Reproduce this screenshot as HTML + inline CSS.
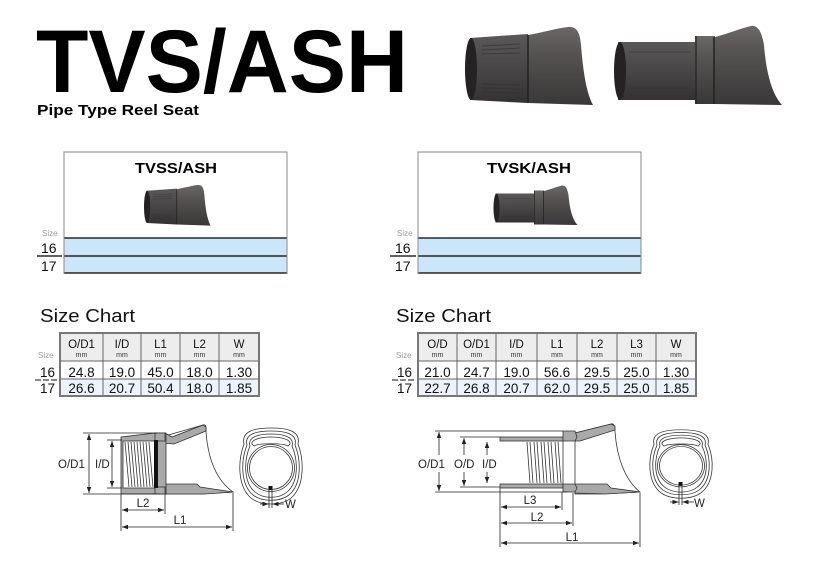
<!DOCTYPE html>
<html><head><meta charset="utf-8"><style>
html,body{margin:0;padding:0;background:#fff;width:819px;height:575px;overflow:hidden}
svg{display:block}
text{font-family:"Liberation Sans",Arial,sans-serif}
</style></head><body>
<svg width="819" height="575" viewBox="0 0 819 575" xmlns="http://www.w3.org/2000/svg">
<defs>
<linearGradient id="rub" x1="0" y1="0" x2="0" y2="1">
<stop offset="0" stop-color="#6a6767"/><stop offset="0.35" stop-color="#555252"/><stop offset="1" stop-color="#393737"/>
</linearGradient>
<linearGradient id="rub2" x1="0" y1="0" x2="0" y2="1">
<stop offset="0" stop-color="#5a5858"/><stop offset="0.5" stop-color="#484646"/><stop offset="1" stop-color="#333131"/>
</linearGradient>
<marker id="ar" viewBox="0 0 8 6" refX="8" refY="3" markerWidth="6" markerHeight="4.5" orient="auto-start-reverse" markerUnits="userSpaceOnUse">
<path d="M0,0 L8,3 L0,6 Z" fill="#222"/>
</marker>
<g id="ph1">
<path d="M528,35 C545,32 558,28 568,27 C577,26 580,33 581,45 C583,70 586,92 593,105 L528,103 Z" fill="url(#rub)"/>
<path d="M470,38 L528,34 L528,103 L470,100 Z" fill="url(#rub2)"/>
<g stroke="#333131" stroke-width="1" opacity="0.7">
<line x1="482" y1="46" x2="520" y2="44"/><line x1="482" y1="50" x2="520" y2="48"/><line x1="482" y1="54" x2="520" y2="53"/>
<line x1="482" y1="84" x2="520" y2="85"/><line x1="482" y1="88" x2="520" y2="89"/><line x1="482" y1="92" x2="520" y2="93"/>
</g>
<line x1="528" y1="35" x2="528" y2="103" stroke="#222020" stroke-width="1.5"/>
<ellipse cx="471" cy="69" rx="6" ry="31" fill="#242222"/>
</g>
<g id="ph2">
<path d="M715,37 C730,33 742,28 751,26 C759,25 762,34 764,45 C766,70 771,93 782,105 L715,104 Z" fill="url(#rub)"/>
<rect x="618" y="42" width="78" height="58" fill="url(#rub2)"/>
<rect x="695" y="36" width="20" height="68" fill="url(#rub)"/>
<line x1="696" y1="36" x2="696" y2="104" stroke="#222020" stroke-width="1.2"/>
<line x1="714" y1="37" x2="714" y2="104" stroke="#222020" stroke-width="1.5"/>
<g stroke="#333131" stroke-width="1" opacity="0.6">
<line x1="630" y1="52" x2="690" y2="52"/><line x1="630" y1="88" x2="690" y2="88"/>
</g>
<ellipse cx="620" cy="71" rx="6" ry="29" fill="#242222"/>
</g>
<g id="ring" fill="none" stroke="#333" stroke-width="0.8">
<path d="M-27,-22 C-30,-36 -14,-38 0,-38 C14,-38 30,-36 27,-22 C33,-6 34,20 20,32 C10,40 -10,40 -20,32 C-34,20 -33,-6 -27,-22 Z"/>
<path d="M-24,-21 C-27,-33 -12,-35 0,-35 C12,-35 27,-33 24,-21 C30,-6 31,18 18,29 C9,36 -9,36 -18,29 C-31,18 -30,-6 -24,-21 Z"/>
<path d="M-21,-20 C-24,-30 -10,-32 0,-32 C10,-32 24,-30 21,-20 C27,-6 28,16 16,26 C8,33 -8,33 -16,26 C-28,16 -27,-6 -21,-20 Z"/>
<path d="M-19,-22 C-20,-27 -8,-29 0,-29 C8,-29 20,-27 19,-22 L17,-20 C12,-23 -12,-23 -17,-20 Z"/>
<circle cx="0" cy="2" r="23.5"/>
<circle cx="0" cy="2" r="21.5"/>
</g>
</defs>

<!-- Title -->
<text x="36" y="92" font-size="89" font-weight="bold" textLength="372" lengthAdjust="spacingAndGlyphs" fill="#000">TVS/ASH</text>
<text x="37" y="115" font-size="15" font-weight="bold" textLength="162" lengthAdjust="spacingAndGlyphs" fill="#000">Pipe Type Reel Seat</text>

<!-- Photos -->
<use href="#ph1"/>
<use href="#ph2"/>

<!-- Box left -->
<rect x="64" y="152" width="223" height="121" fill="#fff" stroke="#8a8a8a" stroke-width="1"/>
<rect x="64" y="238" width="223" height="35" fill="#cbe6f8"/>
<line x1="64" y1="238" x2="287" y2="238" stroke="#000" stroke-width="1.2"/>
<line x1="64" y1="256" x2="287" y2="256" stroke="#000" stroke-width="1.2"/>
<line x1="64" y1="273" x2="287" y2="273" stroke="#000" stroke-width="1.2"/>
<line x1="64" y1="152" x2="64" y2="274" stroke="#8a8a8a"/>
<line x1="287" y1="152" x2="287" y2="274" stroke="#8a8a8a"/>
<text x="176" y="173" font-size="15" font-weight="bold" text-anchor="middle" textLength="82" lengthAdjust="spacingAndGlyphs">TVSS/ASH</text>
<g transform="translate(-97.8,171) scale(0.52)"><use href="#ph1"/></g>
<text x="42" y="236" font-size="8" fill="#999">Size</text>
<text x="41" y="253" font-size="14" fill="#111">16</text>
<line x1="37" y1="256" x2="62" y2="256" stroke="#000" stroke-width="1.2"/>
<text x="41" y="271" font-size="14" fill="#111">17</text>

<!-- Box right -->
<rect x="418" y="152" width="223" height="121" fill="#fff" stroke="#8a8a8a" stroke-width="1"/>
<rect x="418" y="238" width="223" height="35" fill="#cbe6f8"/>
<line x1="418" y1="238" x2="641" y2="238" stroke="#000" stroke-width="1.2"/>
<line x1="418" y1="256" x2="641" y2="256" stroke="#000" stroke-width="1.2"/>
<line x1="418" y1="273" x2="641" y2="273" stroke="#000" stroke-width="1.2"/>
<line x1="418" y1="152" x2="418" y2="274" stroke="#8a8a8a"/>
<line x1="641" y1="152" x2="641" y2="274" stroke="#8a8a8a"/>
<text x="529" y="173" font-size="15" font-weight="bold" text-anchor="middle" textLength="84" lengthAdjust="spacingAndGlyphs">TVSK/ASH</text>
<g transform="translate(186.5,172.5) scale(0.5)"><use href="#ph2"/></g>
<text x="397" y="236" font-size="8" fill="#999">Size</text>
<text x="395" y="253" font-size="14" fill="#111">16</text>
<line x1="390" y1="256" x2="416" y2="256" stroke="#000" stroke-width="1.2"/>
<text x="395" y="271" font-size="14" fill="#111">17</text>

<!-- Size chart left -->
<text x="40" y="322" font-size="18.5" fill="#111" textLength="95" lengthAdjust="spacingAndGlyphs">Size Chart</text>
<rect x="60" y="333" width="199" height="28" fill="#ededed"/>
<rect x="60" y="361" width="199" height="18" fill="#fff"/>
<rect x="60" y="379" width="199" height="17" fill="#eef2fb"/>
<g stroke="#666" stroke-width="1">
<line x1="60" y1="361" x2="259" y2="361"/><line x1="60" y1="379" x2="259" y2="379"/>
<line x1="103" y1="333" x2="103" y2="396"/><line x1="141" y1="333" x2="141" y2="396"/>
<line x1="180" y1="333" x2="180" y2="396"/><line x1="219" y1="333" x2="219" y2="396"/>
</g>
<rect x="60" y="333" width="199" height="63" fill="none" stroke="#777" stroke-width="2"/>
<g font-size="11.5" text-anchor="middle" fill="#111">
<text x="81.5" y="348">O/D1</text><text x="122" y="348">I/D</text><text x="160.5" y="348">L1</text><text x="199.5" y="348">L2</text><text x="239" y="348">W</text>
</g>
<g font-size="7" text-anchor="middle" fill="#333">
<text x="81.5" y="357">mm</text><text x="122" y="357">mm</text><text x="160.5" y="357">mm</text><text x="199.5" y="357">mm</text><text x="239" y="357">mm</text>
</g>
<g font-size="13.5" text-anchor="middle" fill="#111">
<text x="81.5" y="377">24.8</text><text x="122" y="377">19.0</text><text x="160.5" y="377">45.0</text><text x="199.5" y="377">18.0</text><text x="239" y="377">1.30</text>
<text x="81.5" y="393">26.6</text><text x="122" y="393">20.7</text><text x="160.5" y="393">50.4</text><text x="199.5" y="393">18.0</text><text x="239" y="393">1.85</text>
</g>
<text x="38" y="358" font-size="8" fill="#999">Size</text>
<text x="40" y="377" font-size="13.5" fill="#111">16</text>
<line x1="35" y1="380" x2="57" y2="380" stroke="#111" stroke-width="1" stroke-dasharray="6,2"/>
<text x="40" y="393" font-size="13.5" fill="#111">17</text>

<!-- Size chart right -->
<text x="396" y="322" font-size="18.5" fill="#111" textLength="95" lengthAdjust="spacingAndGlyphs">Size Chart</text>
<rect x="418" y="333" width="278" height="28" fill="#ededed"/>
<rect x="418" y="361" width="278" height="18" fill="#fff"/>
<rect x="418" y="379" width="278" height="17" fill="#eef2fb"/>
<g stroke="#666" stroke-width="1">
<line x1="418" y1="361" x2="696" y2="361"/><line x1="418" y1="379" x2="696" y2="379"/>
<line x1="457" y1="333" x2="457" y2="396"/><line x1="496" y1="333" x2="496" y2="396"/>
<line x1="537" y1="333" x2="537" y2="396"/><line x1="577" y1="333" x2="577" y2="396"/>
<line x1="617" y1="333" x2="617" y2="396"/><line x1="656" y1="333" x2="656" y2="396"/>
</g>
<rect x="418" y="333" width="278" height="63" fill="none" stroke="#777" stroke-width="2"/>
<g font-size="11.5" text-anchor="middle" fill="#111">
<text x="437.5" y="348">O/D</text><text x="476.5" y="348">O/D1</text><text x="516.5" y="348">I/D</text><text x="557" y="348">L1</text><text x="597" y="348">L2</text><text x="636.5" y="348">L3</text><text x="676" y="348">W</text>
</g>
<g font-size="7" text-anchor="middle" fill="#333">
<text x="437.5" y="357">mm</text><text x="476.5" y="357">mm</text><text x="516.5" y="357">mm</text><text x="557" y="357">mm</text><text x="597" y="357">mm</text><text x="636.5" y="357">mm</text><text x="676" y="357">mm</text>
</g>
<g font-size="13.5" text-anchor="middle" fill="#111">
<text x="437.5" y="377">21.0</text><text x="476.5" y="377">24.7</text><text x="516.5" y="377">19.0</text><text x="557" y="377">56.6</text><text x="597" y="377">29.5</text><text x="636.5" y="377">25.0</text><text x="676" y="377">1.30</text>
<text x="437.5" y="393">22.7</text><text x="476.5" y="393">26.8</text><text x="516.5" y="393">20.7</text><text x="557" y="393">62.0</text><text x="597" y="393">29.5</text><text x="636.5" y="393">25.0</text><text x="676" y="393">1.85</text>
</g>
<text x="396" y="358" font-size="8" fill="#999">Size</text>
<text x="397" y="377" font-size="13.5" fill="#111">16</text>
<line x1="392" y1="380" x2="414" y2="380" stroke="#111" stroke-width="1" stroke-dasharray="6,2"/>
<text x="397" y="393" font-size="13.5" fill="#111">17</text>

<!-- Left diagram -->
<g stroke="#333" stroke-width="0.8">
<path d="M165,436 L203,425 C206,424 206,426 206,432 C208,458 216,480 233,492 L200,494 L165,494 Z" fill="#fff"/>
<path d="M165,433 L172,437 L203,425 L206,427 L206,431 L174,444 L163,443 Z" fill="#a9a9a9"/>
<path d="M166,484 L197,484 L200,487 L233,492 L205,494 L166,494 Z" fill="#a9a9a9"/>
<path d="M121,437 L155,433 L166,433 L166,494 L121,494 Z" fill="#a9a9a9"/>
<rect x="123" y="441" width="33" height="47" fill="#fff"/>
<rect x="155" y="433" width="10" height="8" fill="#a9a9a9"/>
<rect x="155" y="487" width="10" height="7" fill="#a9a9a9"/>
</g>
<g fill="none" stroke="#333" stroke-width="0.8">
<path d="M125,442 L129,487 M128,442 L132,487"/>
<path d="M131,442 L135,487 M134,442 L138,487"/>
<path d="M137,442 L141,487 M140,442 L144,487"/>
<path d="M143,442 L147,487 M146,442 L150,487"/>
<path d="M149,442 L153,487"/>
</g>
<rect x="154" y="440" width="4" height="48" fill="#111"/>
<g stroke="#222" stroke-width="0.8" fill="none">
<line x1="83" y1="433" x2="157" y2="433"/>
<line x1="83" y1="494" x2="160" y2="494"/>
<line x1="107" y1="440" x2="122" y2="440"/>
<line x1="107" y1="488" x2="122" y2="488"/>
<line x1="89" y1="434" x2="89" y2="493" marker-start="url(#ar)" marker-end="url(#ar)"/>
<line x1="112" y1="441" x2="112" y2="487" marker-start="url(#ar)" marker-end="url(#ar)"/>
<line x1="121" y1="494" x2="121" y2="531"/>
<line x1="165" y1="494" x2="165" y2="514"/>
<line x1="233" y1="493" x2="233" y2="531"/>
<line x1="122" y1="510" x2="164" y2="510" marker-start="url(#ar)" marker-end="url(#ar)"/>
<line x1="122" y1="527" x2="232" y2="527" marker-start="url(#ar)" marker-end="url(#ar)"/>
</g>
<g font-size="11.5" fill="#222">
<text x="58" y="468">O/D1</text>
<text x="95" y="468">I/D</text>
<text x="143" y="507" text-anchor="middle">L2</text>
<text x="180" y="524" text-anchor="middle">L1</text>
<text x="285" y="508">W</text>
</g>
<g transform="translate(271,466)"><use href="#ring"/></g>
<rect x="268.5" y="486" width="4" height="4" fill="#111"/>
<g stroke="#222" stroke-width="0.8">
<line x1="269" y1="488" x2="269" y2="508"/><line x1="272" y1="488" x2="272" y2="508"/>
<line x1="260" y1="504" x2="268.5" y2="504" marker-end="url(#ar)"/>
<line x1="284" y1="504" x2="272.5" y2="504" marker-end="url(#ar)"/>
</g>

<!-- Right diagram -->
<g stroke="#333" stroke-width="0.8">
<path d="M575,433 L611,424 C614,423 615,426 615,432 C617,458 625,480 640,492 L600,494 L575,494 Z" fill="#fff"/>
<path d="M575,433 L611,424 L615,426 L615,430 L580,441 L575,441 Z" fill="#a9a9a9"/>
<path d="M575,484 L607,484 L611,488 L640,492 L605,494 L575,493 Z" fill="#a9a9a9"/>
<rect x="500" y="437" width="63" height="4" fill="#a9a9a9"/>
<rect x="500" y="484" width="63" height="4" fill="#a9a9a9"/>
<path d="M563,431 L575,431 L577,437 L575,441 L563,441 Z" fill="#a9a9a9"/>
<path d="M563,484 L575,484 L577,488 L575,492 L563,492 Z" fill="#a9a9a9"/>
<line x1="563" y1="441" x2="563" y2="484"/>
</g>
<g fill="none" stroke="#333" stroke-width="0.8">
<path d="M527,442 L530,483 M530,442 L533,483"/>
<path d="M534,442 L537,483 M537,442 L540,483"/>
<path d="M541,442 L544,483 M544,442 L547,483"/>
<path d="M548,442 L551,483 M551,442 L554,483"/>
<path d="M555,442 L558,483 M558,442 L561,483"/>
</g>
<g stroke="#222" stroke-width="0.8" fill="none">
<line x1="435" y1="431" x2="563" y2="431"/>
<line x1="435" y1="492" x2="567" y2="492"/>
<line x1="460" y1="437" x2="500" y2="437"/>
<line x1="460" y1="487" x2="500" y2="487"/>
<line x1="439" y1="432" x2="439" y2="455" marker-start="url(#ar)"/>
<line x1="439" y1="472" x2="439" y2="491" marker-end="url(#ar)"/>
<line x1="464" y1="438" x2="464" y2="455" marker-start="url(#ar)"/>
<line x1="464" y1="472" x2="464" y2="486" marker-end="url(#ar)"/>
<line x1="487" y1="442" x2="487" y2="455" marker-start="url(#ar)"/>
<line x1="487" y1="472" x2="487" y2="483" marker-end="url(#ar)"/>
<line x1="500" y1="488" x2="500" y2="547"/>
<line x1="562" y1="492" x2="562" y2="510"/>
<line x1="573" y1="493" x2="573" y2="526"/>
<line x1="640" y1="493" x2="640" y2="547"/>
<line x1="501" y1="507" x2="561" y2="507" marker-start="url(#ar)" marker-end="url(#ar)"/>
<line x1="501" y1="523" x2="572" y2="523" marker-start="url(#ar)" marker-end="url(#ar)"/>
<line x1="501" y1="543" x2="639" y2="543" marker-start="url(#ar)" marker-end="url(#ar)"/>
</g>
<g font-size="11.5" fill="#222">
<text x="418" y="468">O/D1</text>
<text x="454" y="468">O/D</text>
<text x="482" y="468">I/D</text>
<text x="530" y="504" text-anchor="middle">L3</text>
<text x="537" y="521" text-anchor="middle">L2</text>
<text x="572" y="541" text-anchor="middle">L1</text>
<text x="694" y="507">W</text>
</g>
<g transform="translate(681,464) scale(1,0.9)"><use href="#ring"/></g>
<rect x="678.5" y="482" width="4" height="4" fill="#111"/>
<g stroke="#222" stroke-width="0.8">
<line x1="679" y1="484" x2="679" y2="505"/><line x1="682" y1="484" x2="682" y2="505"/>
<line x1="670" y1="502" x2="678.5" y2="502" marker-end="url(#ar)"/>
<line x1="694" y1="502" x2="682.5" y2="502" marker-end="url(#ar)"/>
</g>
</svg>
</body></html>
